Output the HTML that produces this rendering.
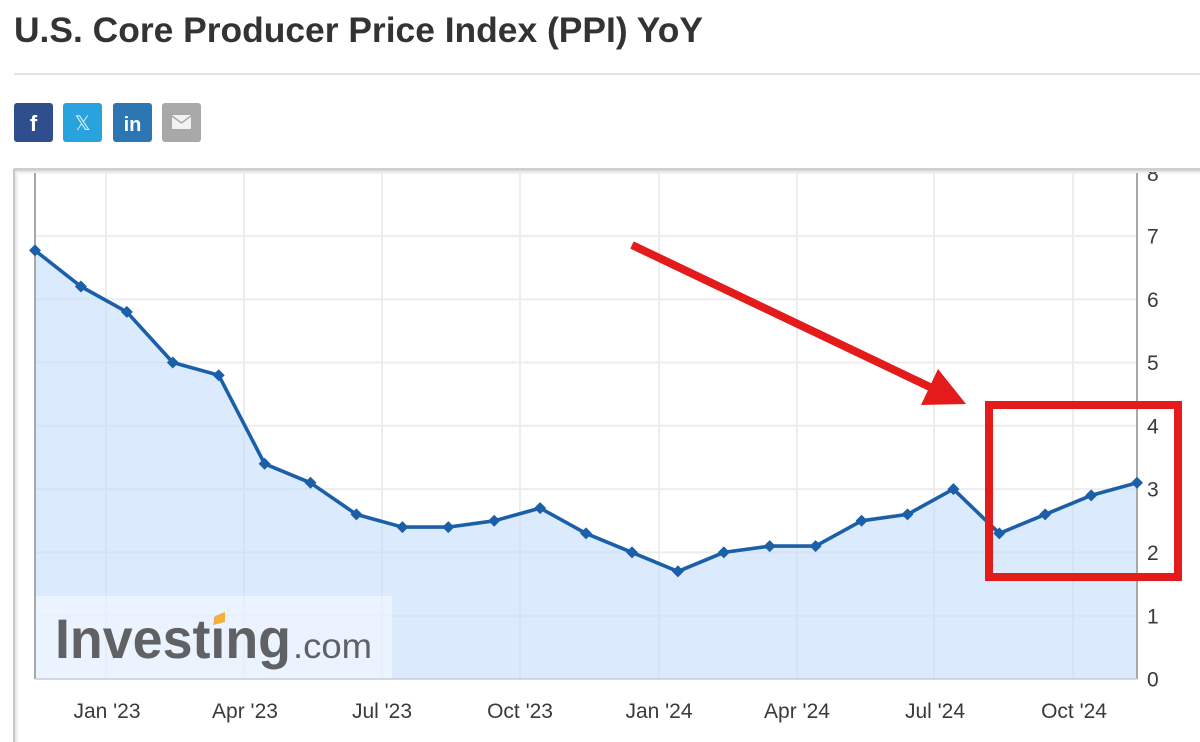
<!DOCTYPE html>
<html>
<head>
<meta charset="utf-8">
<style>
html,body{margin:0;padding:0;background:#fff;}
body{width:1200px;height:742px;overflow:hidden;}
svg{display:block;}
text{font-family:"Liberation Sans",Arial,sans-serif;}
</style>
</head>
<body>
<svg width="1200" height="742" viewBox="0 0 1200 742" xmlns="http://www.w3.org/2000/svg">
  <defs>
    <linearGradient id="sh" x1="0" y1="0" x2="0" y2="1">
      <stop offset="0" stop-color="#dcdcdc"/>
      <stop offset="1" stop-color="#ffffff"/>
    </linearGradient>
    <linearGradient id="shl" x1="0" y1="0" x2="1" y2="0">
      <stop offset="0" stop-color="#e4e4e4"/>
      <stop offset="1" stop-color="#ffffff"/>
    </linearGradient>
    <clipPath id="plotclip"><rect x="0" y="172" width="1200" height="570"/></clipPath>
  </defs>

  <!-- Title -->
  <text x="14" y="42" font-size="35" font-weight="bold" fill="#333" textLength="689" lengthAdjust="spacingAndGlyphs">U.S. Core Producer Price Index (PPI) YoY</text>
  <!-- divider -->
  <rect x="14" y="73" width="1186" height="2" fill="#e2e2e2"/>

  <!-- Social icons -->
  <rect x="14" y="103" width="39" height="39" rx="3" fill="#2f4e8e"/>
  <text x="33.5" y="131" font-size="22" font-weight="bold" fill="#fff" text-anchor="middle">f</text>
  <rect x="63" y="103" width="39" height="39" rx="3" fill="#29a3de"/>
  <text x="82.5" y="130" font-size="20" fill="#e8f6fd" text-anchor="middle">𝕏</text>
  <rect x="113" y="103" width="39" height="39" rx="3" fill="#2d76b4"/>
  <text x="132.5" y="131" font-size="20" font-weight="bold" fill="#fff" text-anchor="middle">in</text>
  <rect x="162" y="103" width="39" height="39" rx="3" fill="#a8a8a8"/>
  <rect x="172" y="115" width="19" height="14" rx="1" fill="#f2f2f2"/>
  <path d="M172 116 L181.5 123 L191 116" stroke="#a8a8a8" stroke-width="1.5" fill="none"/>

  <!-- Chart frame -->
  <rect x="14" y="168" width="1186" height="2.5" fill="#cfcfcf"/>
  <rect x="14" y="170.5" width="1186" height="4" fill="url(#sh)"/>
  <rect x="13" y="169" width="2" height="573" fill="#c8c8c8"/>
  <rect x="15" y="172" width="4" height="570" fill="url(#shl)"/>

  <!-- Grid -->
  <g stroke="#ededed" stroke-width="2">
    <line x1="35" y1="172.6" x2="1137" y2="172.6"/>
    <line x1="35" y1="235.9" x2="1137" y2="235.9"/>
    <line x1="35" y1="299.2" x2="1137" y2="299.2"/>
    <line x1="35" y1="362.5" x2="1137" y2="362.5"/>
    <line x1="35" y1="425.8" x2="1137" y2="425.8"/>
    <line x1="35" y1="489.1" x2="1137" y2="489.1"/>
    <line x1="35" y1="552.4" x2="1137" y2="552.4"/>
    <line x1="35" y1="615.7" x2="1137" y2="615.7"/>
    <line x1="106" y1="172" x2="106" y2="679"/>
    <line x1="244" y1="172" x2="244" y2="679"/>
    <line x1="382" y1="172" x2="382" y2="679"/>
    <line x1="520" y1="172" x2="520" y2="679"/>
    <line x1="659" y1="172" x2="659" y2="679"/>
    <line x1="797" y1="172" x2="797" y2="679"/>
    <line x1="934" y1="172" x2="934" y2="679"/>
    <line x1="1073" y1="172" x2="1073" y2="679"/>
  </g>

  <!-- Area fill -->
  <path fill="#c3defb" fill-opacity="0.6" d="M35,679 L35,250.4 L80.9,286.5 L126.8,311.9 L172.8,362.5 L218.7,375.2 L264.6,463.8 L310.5,482.8 L356.4,514.4 L402.4,527.1 L448.3,527.1 L494.2,520.8 L540.1,508.1 L586,533.4 L632,552.4 L677.9,571.4 L723.8,552.4 L769.7,546.1 L815.6,546.1 L861.6,520.8 L907.5,514.4 L953.4,489.1 L999.3,533.4 L1045.2,514.4 L1091.2,495.4 L1137,482.8 L1137,679 Z"/>

  <!-- Watermark -->
  <rect x="35" y="596" width="357" height="83" fill="#ffffff" fill-opacity="0.45"/>
  <text x="55" y="658" font-size="56" font-weight="bold" fill="#5f6165" textLength="236" lengthAdjust="spacingAndGlyphs">Investing</text>
  <polygon points="215,616 225,612 225,622 213,625" fill="#f3b13a"/>
  <text x="293" y="658" font-size="35" fill="#5f6165" textLength="79" lengthAdjust="spacingAndGlyphs">.com</text>

  <!-- Axes -->
  <line x1="35" y1="173" x2="35" y2="679" stroke="#a8a8a8" stroke-width="2"/>
  <line x1="1137" y1="173" x2="1137" y2="679" stroke="#a8a8a8" stroke-width="2"/>
  <line x1="35" y1="679" x2="1137" y2="679" stroke="#c4cdd8" stroke-width="1.5"/>

  <!-- Series line -->
  <polyline fill="none" stroke="#1a5fa8" stroke-width="3.6" stroke-linejoin="round" points="35,250.4 80.9,286.5 126.8,311.9 172.8,362.5 218.7,375.2 264.6,463.8 310.5,482.8 356.4,514.4 402.4,527.1 448.3,527.1 494.2,520.8 540.1,508.1 586,533.4 632,552.4 677.9,571.4 723.8,552.4 769.7,546.1 815.6,546.1 861.6,520.8 907.5,514.4 953.4,489.1 999.3,533.4 1045.2,514.4 1091.2,495.4 1137,482.8"/>
  <g fill="#1a5fa8">
    <path d="M35,244.4 l6,6 l-6,6 l-6,-6z"/>
    <path d="M80.9,280.5 l6,6 l-6,6 l-6,-6z"/>
    <path d="M126.8,305.9 l6,6 l-6,6 l-6,-6z"/>
    <path d="M172.8,356.5 l6,6 l-6,6 l-6,-6z"/>
    <path d="M218.7,369.2 l6,6 l-6,6 l-6,-6z"/>
    <path d="M264.6,457.8 l6,6 l-6,6 l-6,-6z"/>
    <path d="M310.5,476.8 l6,6 l-6,6 l-6,-6z"/>
    <path d="M356.4,508.4 l6,6 l-6,6 l-6,-6z"/>
    <path d="M402.4,521.1 l6,6 l-6,6 l-6,-6z"/>
    <path d="M448.3,521.1 l6,6 l-6,6 l-6,-6z"/>
    <path d="M494.2,514.8 l6,6 l-6,6 l-6,-6z"/>
    <path d="M540.1,502.1 l6,6 l-6,6 l-6,-6z"/>
    <path d="M586,527.4 l6,6 l-6,6 l-6,-6z"/>
    <path d="M632,546.4 l6,6 l-6,6 l-6,-6z"/>
    <path d="M677.9,565.4 l6,6 l-6,6 l-6,-6z"/>
    <path d="M723.8,546.4 l6,6 l-6,6 l-6,-6z"/>
    <path d="M769.7,540.1 l6,6 l-6,6 l-6,-6z"/>
    <path d="M815.6,540.1 l6,6 l-6,6 l-6,-6z"/>
    <path d="M861.6,514.8 l6,6 l-6,6 l-6,-6z"/>
    <path d="M907.5,508.4 l6,6 l-6,6 l-6,-6z"/>
    <path d="M953.4,483.1 l6,6 l-6,6 l-6,-6z"/>
    <path d="M999.3,527.4 l6,6 l-6,6 l-6,-6z"/>
    <path d="M1045.2,508.4 l6,6 l-6,6 l-6,-6z"/>
    <path d="M1091.2,489.4 l6,6 l-6,6 l-6,-6z"/>
    <path d="M1137,476.8 l6,6 l-6,6 l-6,-6z"/>
  </g>

  <!-- Y labels -->
  <g font-size="21" fill="#3a3a3a" clip-path="url(#plotclip)">
    <text x="1147" y="181">8</text>
    <text x="1147" y="243.5">7</text>
    <text x="1147" y="306.8">6</text>
    <text x="1147" y="370.1">5</text>
    <text x="1147" y="433.4">4</text>
    <text x="1147" y="496.7">3</text>
    <text x="1147" y="560">2</text>
    <text x="1147" y="623.3">1</text>
    <text x="1147" y="686.6">0</text>
  </g>

  <!-- X labels -->
  <g font-size="21" fill="#3a3a3a" text-anchor="middle">
    <text x="107" y="718">Jan '23</text>
    <text x="245" y="718">Apr '23</text>
    <text x="382" y="718">Jul '23</text>
    <text x="520" y="718">Oct '23</text>
    <text x="659" y="718">Jan '24</text>
    <text x="797" y="718">Apr '24</text>
    <text x="935" y="718">Jul '24</text>
    <text x="1074" y="718">Oct '24</text>
  </g>

  <!-- Red arrow -->
  <line x1="632" y1="245" x2="932" y2="388" stroke="#e31b1b" stroke-width="8"/>
  <polygon points="938,369 966,404 921,405" fill="#e31b1b"/>

  <!-- Red box -->
  <rect x="989" y="405" width="189" height="172" fill="none" stroke="#e31b1b" stroke-width="8"/>
</svg>
</body>
</html>
